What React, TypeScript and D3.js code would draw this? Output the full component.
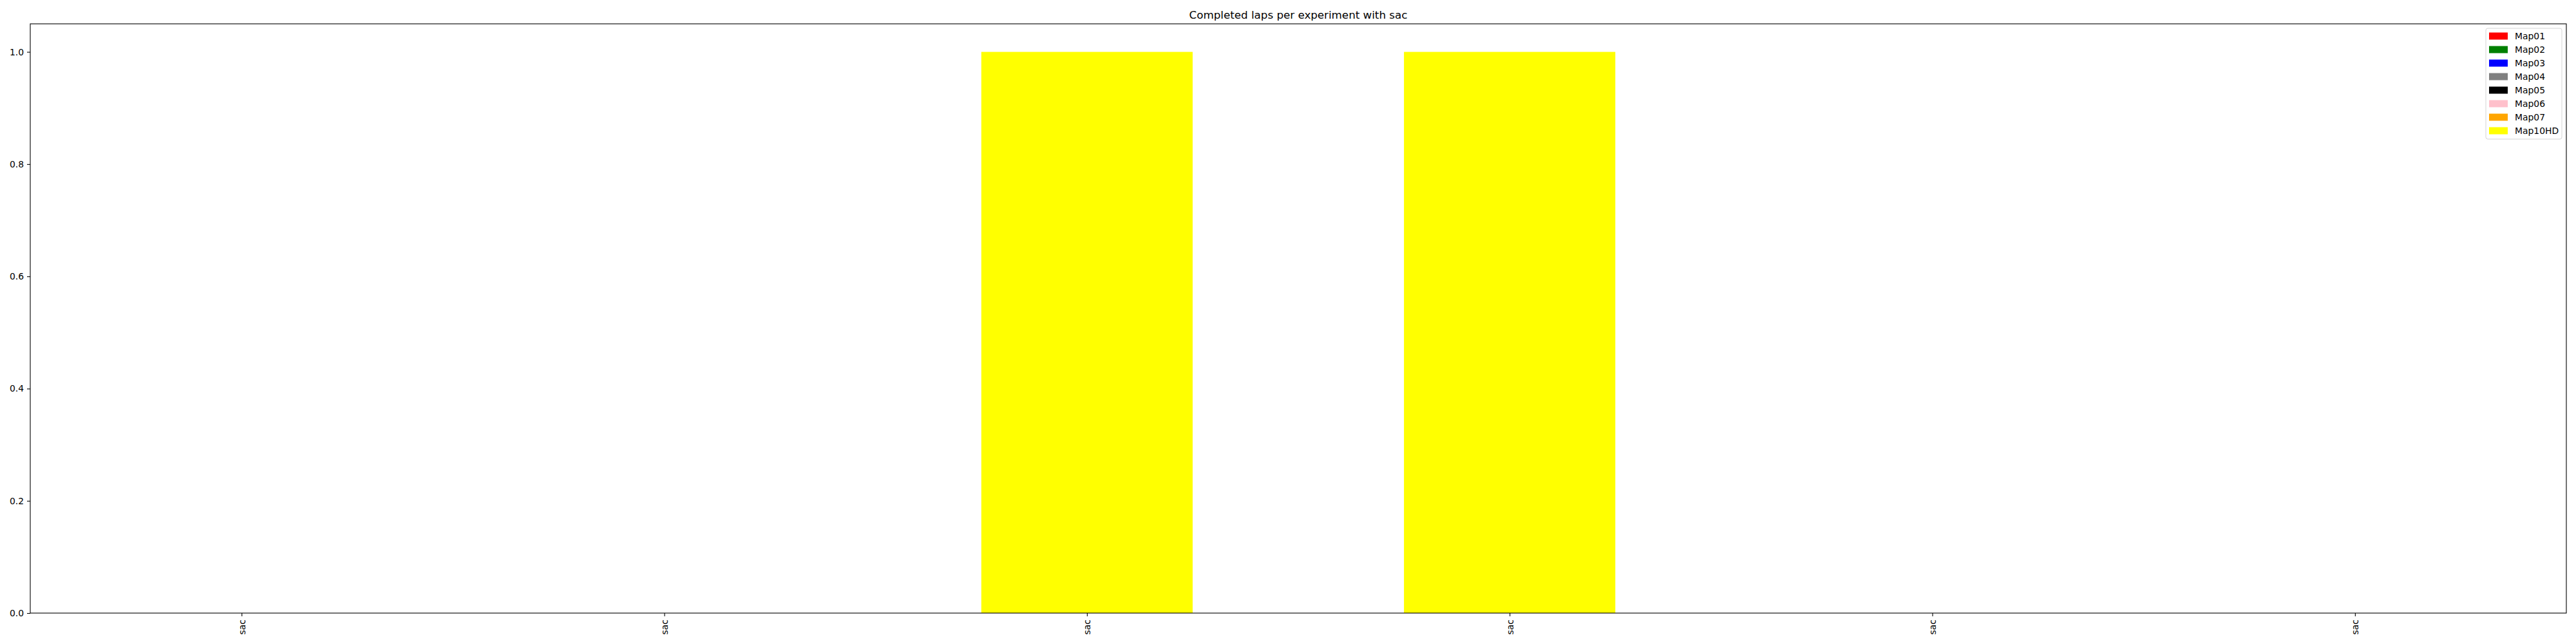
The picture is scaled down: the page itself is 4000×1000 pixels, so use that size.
import { useEffect, useRef } from "react";
import * as d3 from "d3";

// x categories (one per experiment, all labelled "sac")
const categories = ["sac", "sac", "sac", "sac", "sac", "sac"];

const mapNames = ["Map01", "Map02", "Map03", "Map04", "Map05", "Map06", "Map07", "Map10HD"];
const mapColors = ["red", "green", "blue", "gray", "black", "pink", "orange", "yellow"];

// completed laps per experiment, one array per map
const map01 = [0, 0, 0, 0, 0, 0];
const map02 = [0, 0, 0, 0, 0, 0];
const map03 = [0, 0, 0, 0, 0, 0];
const map04 = [0, 0, 0, 0, 0, 0];
const map05 = [0, 0, 0, 0, 0, 0];
const map06 = [0, 0, 0, 0, 0, 0];
const map07 = [0, 0, 0, 0, 0, 0];
const map10hd = [0, 0, 1, 1, 0, 0];

const yTicks = [0, 0.2, 0.4, 0.6, 0.8, 1.0];

const title = "Completed laps per experiment with sac";

const App = () => {
  const svgRef = useRef(null);

  useEffect(() => {
    if (!svgRef.current) return;
    d3.select(svgRef.current).selectAll("*").remove();

    const W = 4000;
    const H = 1000;
    const margin = { top: 37, right: 15, bottom: 48, left: 47 };
    const w = W - margin.left - margin.right;
    const h = H - margin.top - margin.bottom;
    const font = "DejaVu Sans, sans-serif";

    const svg = d3.select(svgRef.current).attr("width", W).attr("height", H);
    svg.append("rect").attr("width", W).attr("height", H).attr("fill", "white");

    const g = svg.append("g").attr("transform", `translate(${margin.left},${margin.top})`);

    const series = [map01, map02, map03, map04, map05, map06, map07, map10hd];
    const rows = categories.map((c, i) => {
      const r: any = { idx: i };
      mapNames.forEach((m, k) => (r[m] = series[k][i]));
      return r;
    });
    const stacked = d3.stack().keys(mapNames)(rows);

    // pandas-style bar layout: positions 0..n-1, xlim (-0.5, n-0.5)
    const x = d3.scaleLinear().domain([-0.5, categories.length - 0.5]).range([0, w]);
    const y = d3.scaleLinear().domain([0, 1.05]).range([h, 0]);
    const barW = 0.5;

    stacked.forEach((s, k) => {
      g.append("g")
        .attr("fill", mapColors[k])
        .selectAll("rect")
        .data(s)
        .join("rect")
        .attr("x", (d: any) => x(d.data.idx - barW / 2))
        .attr("width", x(barW) - x(0))
        .attr("y", (d: any) => y(d[1]))
        .attr("height", (d: any) => Math.max(0, y(d[0]) - y(d[1])));
    });

    // Axes
    const yAxis = d3
      .axisLeft(y)
      .tickValues(yTicks)
      .tickFormat(d3.format(".1f"))
      .tickSize(5)
      .tickPadding(5);
    const yg = g.append("g").call(yAxis);
    yg.select(".domain").remove();
    yg.selectAll("text").attr("font-size", 13.9).attr("font-family", font).attr("fill", "black");
    yg.selectAll("line").attr("stroke", "black").attr("stroke-width", 1.1);

    const xAxis = d3
      .axisBottom(x)
      .tickValues(d3.range(categories.length))
      .tickFormat((d: any) => categories[d])
      .tickSize(5)
      .tickPadding(5);
    const xg = g.append("g").attr("transform", `translate(0,${h})`).call(xAxis);
    xg.select(".domain").remove();
    xg.selectAll("line").attr("stroke", "black").attr("stroke-width", 1.1);
    xg.selectAll("text")
      .attr("font-size", 13.9)
      .attr("font-family", font)
      .attr("fill", "black")
      .attr("dy", null)
      .attr("y", null)
      .attr("transform", "translate(0,10) rotate(-90)")
      .attr("text-anchor", "end")
      .attr("dominant-baseline", "central");

    // frame
    g.append("rect")
      .attr("width", w)
      .attr("height", h)
      .attr("fill", "none")
      .attr("stroke", "black")
      .attr("stroke-width", 1.1);

    // title
    svg
      .append("text")
      .attr("x", margin.left + w / 2)
      .attr("y", 29)
      .attr("text-anchor", "middle")
      .attr("font-family", font)
      .attr("font-size", 16.7)
      .text(title);

    // legend
    const lg = svg.append("g").attr("transform", "translate(3860,44)");
    lg.append("rect")
      .attr("width", 118)
      .attr("height", 172)
      .attr("rx", 3)
      .attr("fill", "white")
      .attr("fill-opacity", 0.8)
      .attr("stroke", "#d5d5d5")
      .attr("stroke-width", 1);
    const items = lg
      .selectAll("g.item")
      .data(mapNames)
      .join("g")
      .attr("class", "item")
      .attr("transform", (_d, i) => `translate(0,${12 + i * 21})`);
    items
      .append("rect")
      .attr("x", 5)
      .attr("y", -5.5)
      .attr("width", 29)
      .attr("height", 11)
      .attr("fill", (_d, i) => mapColors[i]);
    items
      .append("text")
      .attr("x", 45)
      .attr("y", 0)
      .attr("dominant-baseline", "central")
      .attr("font-family", font)
      .attr("font-size", 13.9)
      .text((d) => d);
  }, []);

  return <svg ref={svgRef} style={{ position: "absolute", left: 0, top: 0 }} />;
};

export default App;
